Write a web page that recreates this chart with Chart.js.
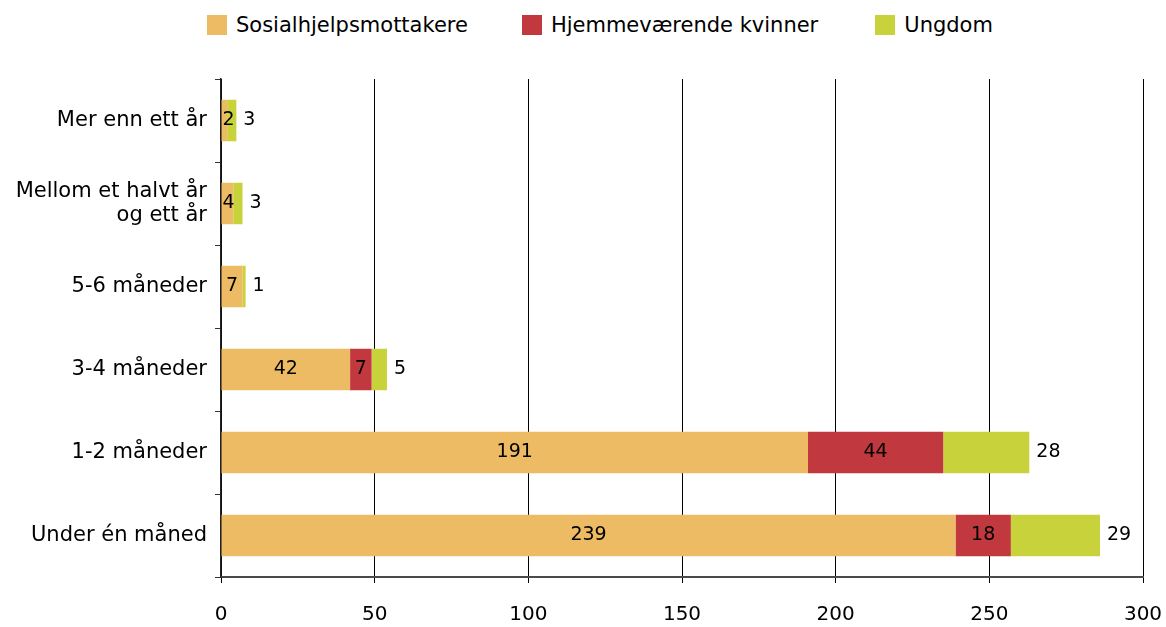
<!DOCTYPE html>
<html lang="no">
<head>
<meta charset="UTF-8">
<title>Varighet</title>
<script src="https://cdn.jsdelivr.net/npm/chart.js@4.4.1/dist/chart.umd.min.js"></script>
<style>
    body {
        margin: 0;
        background: #ffffff;
        font-family: "DejaVu Sans", Verdana, sans-serif;
    }
    .legend {
        height: 50px;
        display: flex;
        align-items: center;
        padding-left: 207px;
        font-size: 21px;
        color: #000;
    }
    .legend span.item {
        display: flex;
        align-items: center;
        margin-right: 54px;
    }
    .legend span.item:nth-child(2) {
        margin-right: 57px;
    }
    .legend span.box {
        width: 20px;
        height: 20px;
        margin-right: 9px;
    }
    .wrap {
        width: 1166px;
        height: 577px;
    }
</style>
</head>
<body>
<div class="legend" id="legend"></div>
<div class="wrap"><canvas id="chart"></canvas></div>
<script>
// kategorier, fra topp til bunn
const categories = [
    'Mer enn ett år',
    ['Mellom et halvt år', 'og ett år'],
    '5-6 måneder',
    '3-4 måneder',
    '1-2 måneder',
    'Under én måned'
];
const seriesNames = ['Sosialhjelpsmottakere', 'Hjemmeværende kvinner', 'Ungdom'];
const sosialhjelp = [2, 4, 7, 42, 191, 239];
const hjemmevaerende = [0, 0, 0, 7, 44, 18];
const ungdom = [3, 3, 1, 5, 28, 29];
const xTicks = [0, 50, 100, 150, 200, 250, 300];
const colors = ['#ecbb64', '#c1393e', '#c8d23a'];

// enkel legende over figuren
const legendEl = document.getElementById('legend');
seriesNames.forEach((name, i) => {
    const item = document.createElement('span');
    item.className = 'item';
    const box = document.createElement('span');
    box.className = 'box';
    box.style.background = colors[i];
    item.appendChild(box);
    item.appendChild(document.createTextNode(name));
    legendEl.appendChild(item);
});

// verdietiketter: de to første inni stolpen, ungdom til høyre
const barLabels = {
    id: 'barLabels',
    afterDatasetsDraw(chart) {
        const ctx = chart.ctx;
        ctx.save();
        ctx.font = '19px "DejaVu Sans", Verdana, sans-serif';
        ctx.fillStyle = '#000';
        ctx.textBaseline = 'middle';
        chart.data.datasets.forEach((ds, di) => {
            const meta = chart.getDatasetMeta(di);
            meta.data.forEach((bar, i) => {
                const v = ds.data[i];
                if (!v) return;
                const txt = String(v);
                const w = ctx.measureText(txt).width;
                if (di < 2) {
                    let x = (bar.x + bar.base) / 2;
                    x = Math.max(x, bar.base + w / 2 + 1);
                    ctx.textAlign = 'center';
                    ctx.fillText(txt, x, bar.y);
                } else {
                    ctx.textAlign = 'left';
                    ctx.fillText(txt, bar.x + 7, bar.y);
                }
            });
        });
        ctx.restore();
    }
};

const font = { family: '"DejaVu Sans", Verdana, sans-serif', size: 21 };

new Chart(document.getElementById('chart'), {
    type: 'bar',
    data: {
        labels: categories,
        datasets: [
            { label: seriesNames[0], data: sosialhjelp, backgroundColor: colors[0] },
            { label: seriesNames[1], data: hjemmevaerende, backgroundColor: colors[1] },
            { label: seriesNames[2], data: ungdom, backgroundColor: colors[2] }
        ]
    },
    options: {
        indexAxis: 'y',
        responsive: true,
        maintainAspectRatio: false,
        animation: false,
        barPercentage: 0.5,
        categoryPercentage: 1,
        layout: { padding: { top: 29, right: 23, left: 0, bottom: 0 } },
        plugins: {
            legend: { display: false },
            tooltip: { enabled: false }
        },
        scales: {
            x: {
                stacked: true,
                min: 0,
                max: 300,
                afterBuildTicks(scale) {
                    scale.ticks = xTicks.map(v => ({ value: v }));
                },
                afterFit(scale) {
                    scale.height = 50;
                    scale.paddingLeft = 0;
                    scale.paddingRight = 0;
                },
                grid: {
                    color: '#000',
                    lineWidth: 1,
                    tickLength: 6
                },
                border: { color: '#4a4a4a', width: 2 },
                ticks: { color: '#000', font: { family: font.family, size: 20 }, padding: 20 }
            },
            y: {
                stacked: true,
                afterFit(scale) { scale.width = 221; },
                grid: {
                    offset: true,
                    drawOnChartArea: false,
                    color: '#333',
                    tickLength: 6
                },
                border: { color: '#222', width: 1.5 },
                ticks: { color: '#000', font: { family: font.family, size: 21, lineHeight: 1.1 }, padding: 8 }
            }
        }
    },
    plugins: [barLabels]
});
</script>
</body>
</html>
